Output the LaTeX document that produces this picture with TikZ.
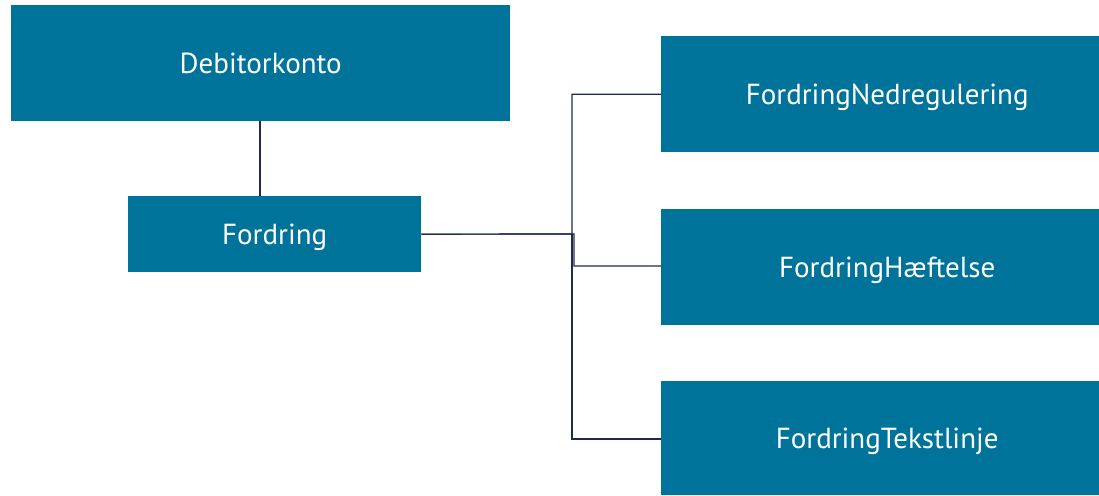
\documentclass[tikz,border=0pt]{standalone}
\usepackage{fontspec}
\setmainfont{PT Sans}
\definecolor{boxteal}{HTML}{00739A}
\definecolor{linenavy}{HTML}{1F2A4E}
\begin{document}
\begin{tikzpicture}[x=1pt,y=-1pt,
  entity/.style={fill=boxteal,draw=none,text=white,font=\fontsize{29}{34}\selectfont,inner sep=0pt,text depth=0pt,anchor=north west},
  link/.style={draw=linenavy,line width=1.2pt}]
\useasboundingbox (0,0) rectangle (1099,495);
\clip (0,0) rectangle (1099,495);
\fill[white] (0,0) rectangle (1099,495);
\node[entity,minimum width=499pt,minimum height=116pt] (deb) at (11,5) {Debitorkonto};
\node[entity,minimum width=293pt,minimum height=76pt] (ford) at (128,196) {Fordring};
\node[entity,minimum width=452pt,minimum height=116pt] (ned) at (661,36) {FordringNedregulering};
\node[entity,minimum width=452pt,minimum height=116pt] (hae) at (661,209) {FordringHæftelse};
\node[entity,minimum width=452pt,minimum height=114pt] (tek) at (661,381) {FordringTekstlinje};
\coordinate (j1) at (572,234);
\coordinate (j2) at (574,234);
\draw[link] (deb.south -| 260,0) -- (ford.north -| 260,0);
\draw[link] (ford.east) -- (j1) |- (ned.west);
\draw[link] (ford.east) -- (j2) |- (hae.west |- 0,266);
\draw[link] (j1) |- (tek.west |- 0,439);
\end{tikzpicture}
\end{document}
